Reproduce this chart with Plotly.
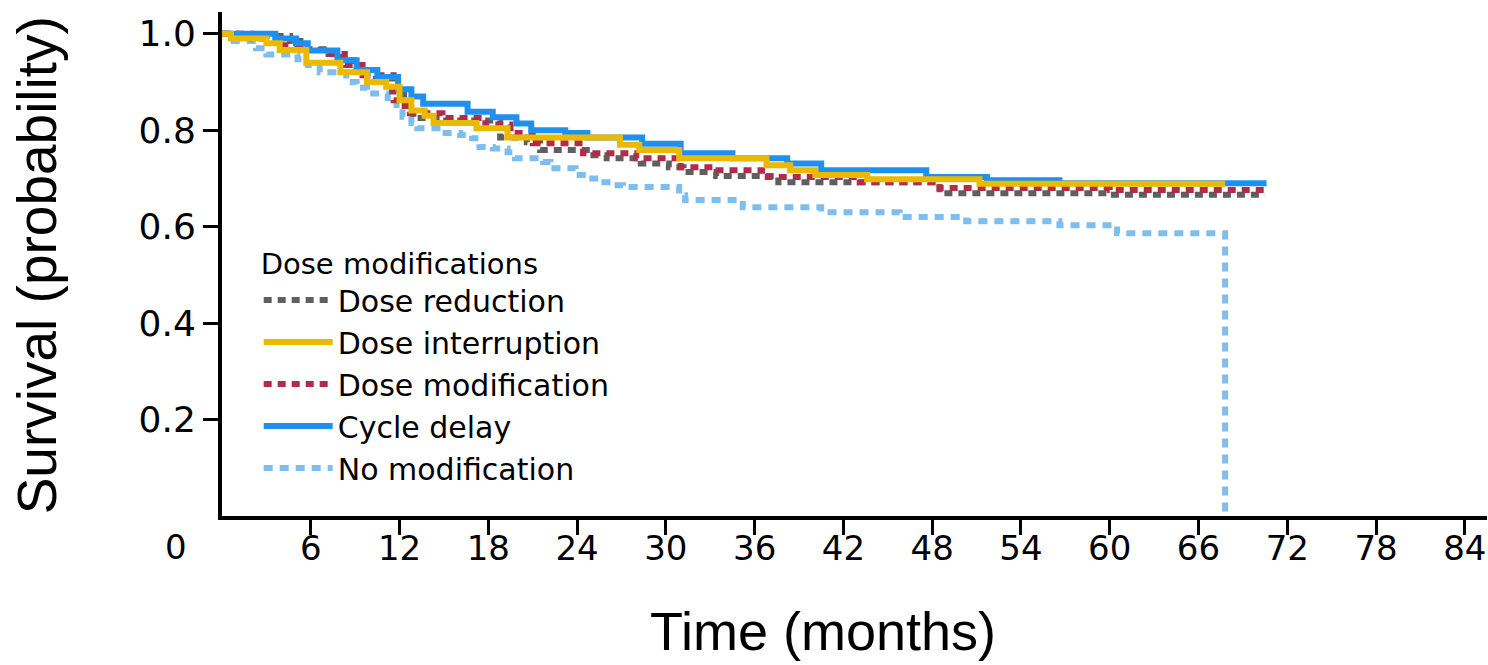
import plotly.graph_objects as go

# ---- data ----
reduction_t = [0, 1.0, 4.6, 5.3, 7.2, 8.1, 8.9, 10.4, 11.5, 12.3, 12.9, 14.8, 18.8, 20.6, 21.5, 25.1, 26.0, 28.3, 30.2, 31.2, 33.4, 37.6, 48.5, 60.0, 70.5]
reduction_s = [1.0, 0.995, 0.985, 0.968, 0.958, 0.945, 0.925, 0.908, 0.88, 0.855, 0.825, 0.82, 0.785, 0.775, 0.759, 0.748, 0.742, 0.731, 0.723, 0.713, 0.705, 0.692, 0.669, 0.666, 0.666]

interruption_t = [0, 0.6, 3.0, 3.9, 5.7, 8.0, 9.8, 11.1, 12.0, 12.8, 13.7, 14.3, 17.2, 19.3, 26.9, 28.2, 30.9, 36.8, 38.4, 40.1, 43.6, 51.2, 67.8]
interruption_s = [1.0, 0.99, 0.98, 0.966, 0.94, 0.92, 0.90, 0.89, 0.862, 0.841, 0.83, 0.815, 0.804, 0.785, 0.77, 0.759, 0.742, 0.727, 0.717, 0.707, 0.698, 0.689, 0.689]

modification_t = [0, 2.0, 3.9, 5.3, 6.8, 8.3, 9.5, 11.6, 12.0, 12.7, 14.9, 17.8, 19.5, 21.0, 24.4, 28.0, 31.0, 33.2, 36.5, 43.1, 48.5, 60.0, 70.5]
modification_s = [1.0, 0.99, 0.976, 0.966, 0.958, 0.935, 0.914, 0.862, 0.85, 0.835, 0.825, 0.812, 0.794, 0.773, 0.752, 0.742, 0.723, 0.717, 0.703, 0.692, 0.68, 0.676, 0.676]

delay_t = [0, 3.6, 5.0, 5.8, 7.8, 9.1, 10.5, 11.9, 12.8, 13.6, 16.6, 18.3, 19.9, 20.9, 23.2, 24.7, 28.4, 31.0, 34.5, 38.2, 40.5, 47.6, 51.7, 56.6, 70.6]
delay_s = [1.0, 0.99, 0.98, 0.965, 0.945, 0.925, 0.91, 0.885, 0.87, 0.855, 0.838, 0.827, 0.814, 0.80, 0.794, 0.785, 0.772, 0.752, 0.742, 0.731, 0.717, 0.703, 0.696, 0.69, 0.69]

none_t = [0, 0.5, 2.3, 3.0, 5.1, 5.8, 6.6, 8.4, 9.1, 9.8, 11.2, 11.8, 12.2, 12.8, 13.2, 14.9, 16.1, 16.9, 17.4, 18.3, 19.3, 19.8, 21.7, 22.2, 23.9, 24.7, 25.5, 26.4, 27.1, 30.9, 31.3, 35.2, 40.5, 45.8, 50.3, 56.6, 60.5, 67.8, 67.8]
none_s = [1.0, 0.985, 0.97, 0.957, 0.947, 0.935, 0.92, 0.90, 0.888, 0.876, 0.858, 0.845, 0.828, 0.815, 0.804, 0.794, 0.79, 0.783, 0.765, 0.762, 0.754, 0.742, 0.734, 0.721, 0.707, 0.70, 0.692, 0.686, 0.682, 0.665, 0.655, 0.64, 0.63, 0.62, 0.611, 0.603, 0.586, 0.586, 0.0]

x_ticks = [6, 12, 18, 24, 30, 36, 42, 48, 54, 60, 66, 72, 78, 84]
y_ticks = [0.2, 0.4, 0.6, 0.8, 1.0]
y_ticktext = ["0.2", "0.4", "0.6", "0.8", "1.0"]

# ---- figure ----
series = [
    # (name, t, s, color, dash, legend rank)
    ("No modification", none_t, none_s, "#7DBDF0", "9px,7px", 5),
    ("Dose reduction", reduction_t, reduction_s, "#5F5F5F", "8px,6px", 1),
    ("Dose modification", modification_t, modification_s, "#B02C48", "8px,6px", 3),
    ("Cycle delay", delay_t, delay_s, "#2090F0", "solid", 4),
    ("Dose interruption", interruption_t, interruption_s, "#EBBA00", "solid", 2),
]

fig = go.Figure()
for name, t, s, color, dash, rank in series:
    fig.add_trace(go.Scatter(
        x=t, y=s, mode="lines", name=name, line_shape="hv",
        line=dict(color=color, width=6, dash=dash),
        legendrank=rank, legendgroup=name,
    ))

ytick_font = dict(family="DejaVu Sans", size=36, color="black")
xtick_font = dict(family="DejaVu Sans", size=34, color="black")
fig.update_layout(
    width=1488, height=665,
    margin=dict(l=222, r=1, t=12, b=149, autoexpand=False),
    paper_bgcolor="white", plot_bgcolor="white",
    showlegend=True,
    legend=dict(
        x=0.029, y=0.555, xanchor="left", yanchor="top",
        bgcolor="rgba(0,0,0,0)",
        font=dict(family="DejaVu Sans", size=30, color="black"),
        title=dict(text="Dose modifications", font=dict(family="DejaVu Sans", size=29, color="black")),
        traceorder="grouped", tracegroupgap=0, itemwidth=69,
    ),
    xaxis=dict(
        range=[0, 85.5], tickmode="array", tickvals=x_ticks,
        ticks="outside", ticklen=15, tickwidth=3, tickcolor="black",
        ticklabelstandoff=-16,
        showline=True, linewidth=4, linecolor="black", automargin=False,
        showgrid=False, zeroline=False, tickfont=xtick_font,
    ),
    yaxis=dict(
        range=[0, 1.045], tickmode="array", tickvals=y_ticks, ticktext=y_ticktext,
        ticks="outside", ticklen=15, tickwidth=3, tickcolor="black",
        showline=True, linewidth=4, linecolor="black", automargin=False,
        showgrid=False, zeroline=False, tickfont=ytick_font,
    ),
    annotations=[
        dict(text="0", xref="paper", yref="paper", x=-0.036, y=-0.062,
             xanchor="center", yanchor="middle", showarrow=False, font=xtick_font),
        dict(text="Time (months)", xref="paper", yref="paper", x=0.475, y=-0.228,
             xanchor="center", yanchor="middle", showarrow=False,
             font=dict(family="Liberation Sans", size=54, color="black")),
        dict(text="Survival (probability)", xref="paper", yref="paper", x=-0.146, y=0.498,
             xanchor="center", yanchor="middle", showarrow=False, textangle=-90,
             font=dict(family="Liberation Sans", size=55, color="black")),
    ],
)

fig.write_html(
    "out.html",
    config={"displayModeBar": False},
    post_script="document.body.style.margin='0';document.body.style.overflow='hidden';",
)
